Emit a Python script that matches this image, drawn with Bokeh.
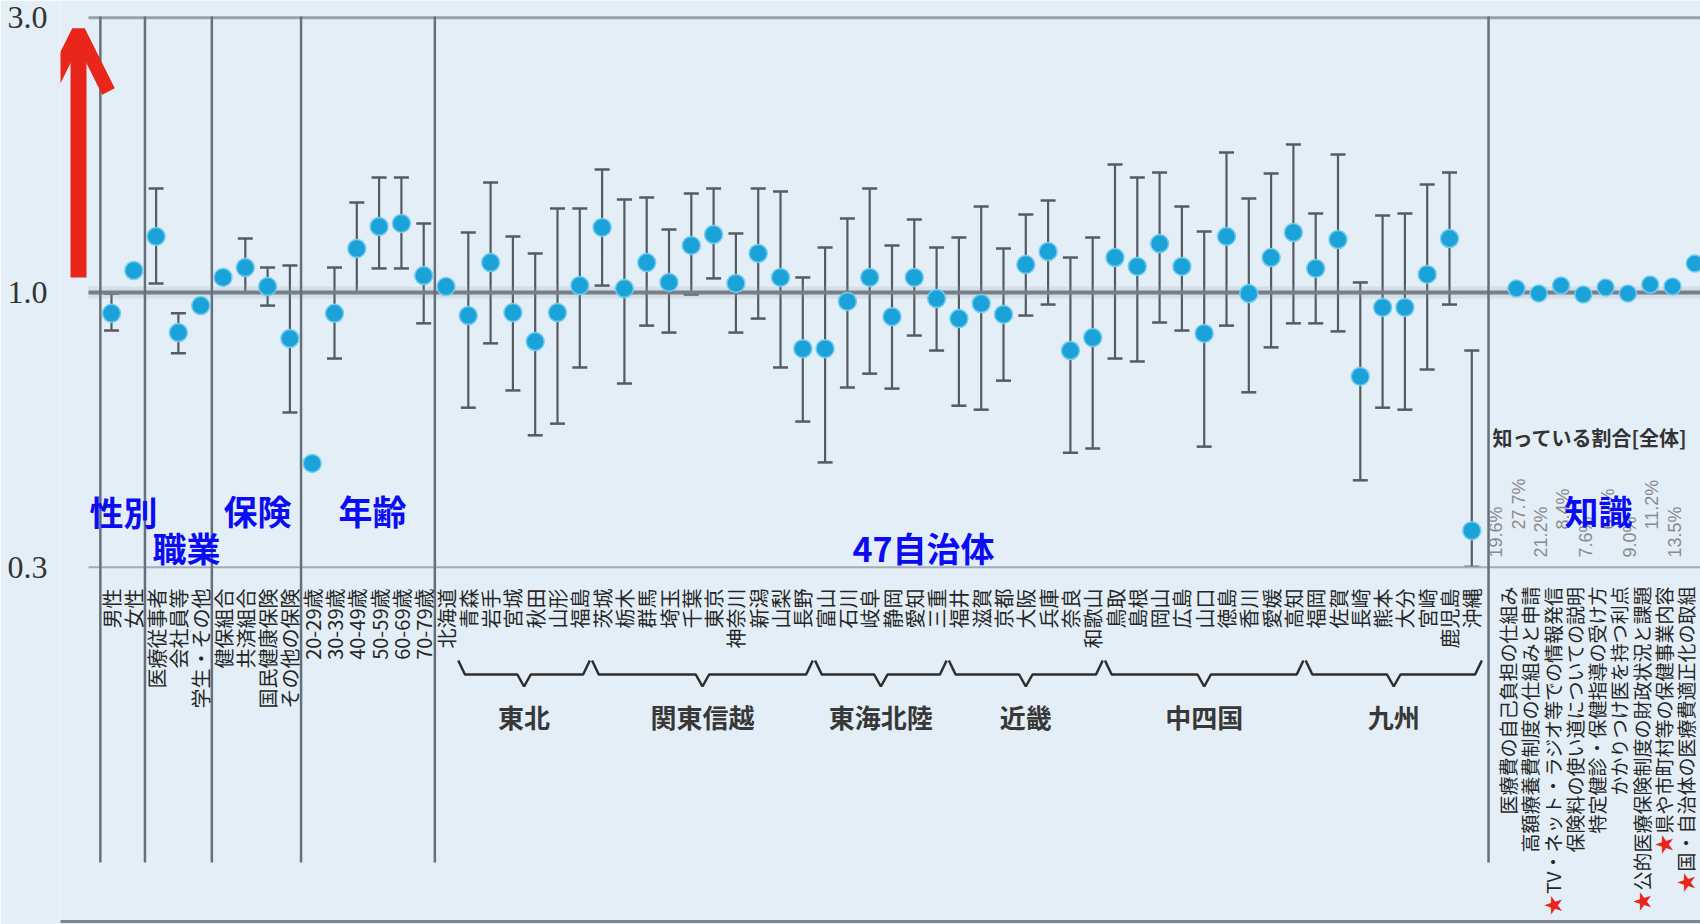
import math
from bokeh.plotting import figure
from bokeh.models import (ColumnDataSource, Range1d, FixedTicker, PrintfTickFormatter,
                          Whisker, TeeHead, Arrow, OpenHead)
from bokeh.core.properties import value
from bokeh.embed import file_html
from bokeh.resources import INLINE

# ----------------------------- data -----------------------------
attr_groups = ["性別", "職業", "保険", "年齢"]
attr_group_sizes = [2, 3, 4, 6]
attr_labels = ["男性", "女性",
               "医療従事者", "会社員等", "学生・その他",
               "健保組合", "共済組合", "国民健康保険", "その他の保険",
               "20-29歳", "30-39歳", "40-49歳", "50-59歳", "60-69歳", "70-79歳"]
attr_or = [0.920, 1.092, 1.251, 0.852, 0.949, 1.062, 1.105, 1.024, 0.832,
           0.505, 0.920, 1.192, 1.302, 1.318, 1.070]
attr_lower = [0.859, None, 1.037, 0.784, None, None, 1.000, 0.949, 0.619,
              None, 0.768, 1.000, 1.101, 1.101, 0.884]
attr_upper = [0.996, None, 1.515, 0.920, None, None, 1.241, 1.105, 1.114,
              None, 1.105, 1.433, 1.584, 1.584, 1.318]

pref_heading = "47自治体"
pref_labels = ["北海道", "青森", "岩手", "宮城", "秋田", "山形", "福島",
               "茨城", "栃木", "群馬", "埼玉", "千葉", "東京", "神奈川", "新潟", "山梨", "長野",
               "富山", "石川", "岐阜", "静岡", "愛知", "三重",
               "福井", "滋賀", "京都", "大阪", "兵庫", "奈良", "和歌山",
               "鳥取", "島根", "岡山", "広島", "山口", "徳島", "香川", "愛媛", "高知",
               "福岡", "佐賀", "長崎", "熊本", "大分", "宮崎", "鹿児島", "沖縄"]
pref_or = [1.024, 0.912, 1.127, 0.923, 0.822, 0.923, 1.028,
           1.297, 1.016, 1.127, 1.041, 1.207, 1.261, 1.037, 1.169, 1.062, 0.799,
           0.799, 0.965, 1.062, 0.908, 1.062, 0.976,
           0.901, 0.957, 0.916, 1.118, 1.178, 0.793, 0.835,
           1.150, 1.110, 1.216, 1.110, 0.849, 1.251, 0.996, 1.150, 1.271,
           1.101, 1.236, 0.715, 0.942, 0.942, 1.075, 1.241, 0.386]
pref_lower = [None, 0.631, 0.816, 0.676, 0.565, 0.592, 0.741,
              1.028, 0.695, 0.876, 0.852, 0.992, 1.058, 0.852, 0.901, 0.741, 0.597,
              0.507, 0.684, 0.723, 0.681, 0.842, 0.793,
              0.636, 0.626, 0.703, 0.912, 0.953, 0.527, 0.536,
              0.768, 0.759, 0.887, 0.859, 0.540, 0.876, 0.671, 0.803, 0.884,
              0.884, 0.856, 0.472, 0.631, 0.626, 0.735, 0.953, 0.334]
pref_upper = [None, 1.271, 1.552, 1.251, 1.169, 1.399, 1.399,
              1.635, 1.450, 1.462, 1.286, 1.485, 1.515, 1.266, 1.515, 1.497, 1.062,
              1.197, 1.344, 1.515, 1.207, 1.339, 1.197,
              1.246, 1.410, 1.192, 1.366, 1.444, 1.150, 1.246,
              1.668, 1.584, 1.615, 1.410, 1.276, 1.750, 1.456, 1.609, 1.807,
              1.371, 1.736, 1.041, 1.360, 1.371, 1.540, 1.615, 0.793]

region_names = ["東北", "関東信越", "東海北陸", "近畿", "中四国", "九州"]
region_sizes = [6, 10, 6, 7, 9, 8]          # prefectures after 北海道

know_heading = "知識"
know_title = "知っている割合[全体]"
know_labels = ["医療費の自己負担の仕組み",
               "高額療養費制度の仕組みと申請",
               "TV・ネット・ラジオ等での情報発信",
               "保険料の使い道についての説明",
               "特定健診・保健指導の受け方",
               "かかりつけ医を持つ利点",
               "公的医療保険制度の財政状況と課題",
               "県や市町村等の保健事業内容",
               "国・自治体の医療費適正化の取組"]
know_star = [False, False, True, False, False, False, True, True, True]
know_or = [1.016, 0.996, 1.028, 0.992, 1.020, 0.996, 1.032, 1.024, 1.123]
know_pct = ["19.6%", "27.7%", "21.2%", "8.4%", "7.6%", "6.2%", "9.0%", "11.2%", "13.5%"]

y_tick_values = [1 / 3, 1.0, 3.0]

# ----------------------------- layout -----------------------------
W, H, PAGE, LEFT = 1700, 924, 0, 60
X0, DX = 111.0, 22.3      # page x of slot 0, slot pitch
Y1, DEC = 292.0, 576.0    # page y of OR = 1, pixels per decade


def sx(px):
    return (px - X0) / DX


def sy(py):
    return 10 ** ((Y1 - py) / DEC)


BG = "#e3eef6"
DOT = "#1ba3d9"
ERR = "#555b60"
SEP = "#66707a"
RED = "#e8261b"
BLUE = "#0c0cf2"
JP = "Noto Sans CJK JP"

attr_x = list(range(len(attr_labels)))
pref_x = [len(attr_labels) + i for i in range(len(pref_labels))]
know_x = [pref_x[-1] + 2 + i for i in range(len(know_labels))]

p = figure(width=W, height=H, output_backend="svg", toolbar_location=None,
           x_range=Range1d(sx(PAGE + LEFT), sx(PAGE + W)),
           y_range=Range1d(sy(PAGE + H), sy(PAGE)),
           y_axis_type="log", x_axis_location=None,
           min_border_left=LEFT, min_border_right=0, min_border_top=0, min_border_bottom=0,
           background_fill_color=BG, border_fill_color=BG, outline_line_color=None)
p.grid.visible = False
ax = p.yaxis[0]
ax.ticker = FixedTicker(ticks=y_tick_values, minor_ticks=[])
ax.formatter = PrintfTickFormatter(format="%.1f")
ax.axis_line_color = None
ax.major_tick_line_color = None
ax.minor_tick_line_color = None
ax.major_label_standoff = 7
ax.major_label_text_font = "Liberation Serif"
ax.major_label_text_font_size = "32px"
ax.major_label_text_color = "#333333"

# horizontal reference lines
hx0, hx1 = sx(88), sx(1720)
p.segment(x0=hx0, x1=hx1, y0=1.0, y1=1.0, line_color="#8f9aa5", line_width=12, line_alpha=0.18)
p.segment(x0=[hx0] * 3, x1=[hx1] * 3, y0=y_tick_values, y1=y_tick_values,
          line_color=["#a3acb4", "#76808a", "#99a2aa"], line_width=[2, 4, 3])
# bottom border of the panel
p.segment(x0=sx(40), x1=sx(1720), y0=sy(921), y1=sy(921), line_color="#7d868e", line_width=3)

# vertical separators between groups
bounds = [-0.5]
acc = 0
for n in attr_group_sizes:
    acc += n
    bounds.append(acc - 0.5)
bounds.append(pref_x[-1] + 0.75)
p.segment(x0=bounds, x1=bounds, y0=sy(16), y1=sy(862), line_color=SEP, line_width=2.5)

# red arrow
p.add_layout(Arrow(end=OpenHead(size=60, line_width=14, line_color=RED),
                   x_start=sx(78), y_start=sy(277), x_end=sx(78), y_end=sy(31),
                   line_color=RED, line_width=16))


# error bars
def whisker_source(xs, lo, hi):
    rows = [(x, l, h) for x, l, h in zip(xs, lo, hi) if l is not None and h is not None]
    return ColumnDataSource(dict(x=[r[0] for r in rows], lower=[r[1] for r in rows],
                                 upper=[r[2] for r in rows]))


for src in (whisker_source(attr_x, attr_lower, attr_upper),
            whisker_source(pref_x, pref_lower, pref_upper)):
    p.add_layout(Whisker(source=src, base="x", lower="lower", upper="upper",
                         line_color=ERR, line_width=2.2,
                         upper_head=TeeHead(size=15, line_color=ERR, line_width=2.5),
                         lower_head=TeeHead(size=15, line_color=ERR, line_width=2.5)))

# points
p.scatter(x=attr_x + pref_x, y=attr_or + pref_or, size=18, fill_color=DOT,
          line_color="#74cdf0", line_width=1.5)
p.scatter(x=know_x, y=know_or, size=17, fill_color=DOT, line_color="#74cdf0", line_width=1.5)

# category labels (rotated)
lab_common = dict(angle=math.pi / 2, text_align="right", text_baseline="middle",
                  text_font=value(JP), text_color="#262626")
p.text(x=attr_x + pref_x, y=[sy(588)] * (len(attr_x) + len(pref_x)),
       text=attr_labels + pref_labels, text_font_size="20px", **lab_common)
know_lab_x = [x - 0.4 for x in know_x]
p.text(x=know_lab_x, y=[sy(586)] * len(know_x), text=know_labels, text_font_size="19px",
       **lab_common)


def text_px(s, fs):
    return sum(fs * (0.6 if ord(c) < 256 else 1.0) for c in s)


star_x = [x for x, s in zip(know_lab_x, know_star) if s]
star_y = [sy(586 + text_px(t, 19) + 11) for t, s in zip(know_labels, know_star) if s]
p.text(x=star_x, y=star_y, text=["★"] * len(star_x), angle=math.pi / 2,
       text_align="center", text_baseline="middle", text_font=value(JP),
       text_font_size="20px", text_color=RED)

# knowledge percentages (staggered)
p.text(x=[x - 0.9 for x in know_x],
       y=[sy(557) if i % 2 == 0 else sy(529) for i in range(len(know_x))],
       text=know_pct, angle=math.pi / 2, text_align="left", text_baseline="middle",
       text_font=value("Liberation Sans"), text_font_size="18px", text_color="#8a8a8a")
p.text(x=[sx(1492)], y=[sy(437)], text=[know_title], text_align="left", text_baseline="middle",
       text_font=value(JP), text_font_size="20px", text_font_style="bold", text_color="#333333")

# region braces and names
bx, by, rc = [], [], []
start = pref_x[1]
e = 0.3
for n in region_sizes:
    x0, x1 = start - 0.45, start + n - 1 + 0.45
    xc = (x0 + x1) / 2
    bx.append([x0, x0 + e, xc - e, xc, xc + e, x1 - e, x1])
    by.append([sy(660), sy(674), sy(674), sy(686), sy(674), sy(674), sy(660)])
    rc.append(xc)
    start += n
p.multi_line(xs=bx, ys=by, line_color="#2e2e2e", line_width=2.5)
p.text(x=rc, y=[sy(716)] * len(rc), text=region_names, text_align="center",
       text_baseline="middle", text_font=value(JP), text_font_size="26px",
       text_font_style="bold", text_color="#383838")

# blue group headings
head_text = attr_groups + [pref_heading, know_heading]
head_x = [sx(123), sx(186), sx(257), sx(372), sx(923), sx(1598)]
head_y = [sy(511), sy(547), sy(510), sy(510), sy(547), sy(510)]
p.text(x=head_x, y=head_y, text=head_text, text_align="center", text_baseline="middle",
       text_font=value(JP), text_font_size="34px", text_font_style="bold", text_color=BLUE)

open("out.html", "w").write(file_html(p, INLINE))
